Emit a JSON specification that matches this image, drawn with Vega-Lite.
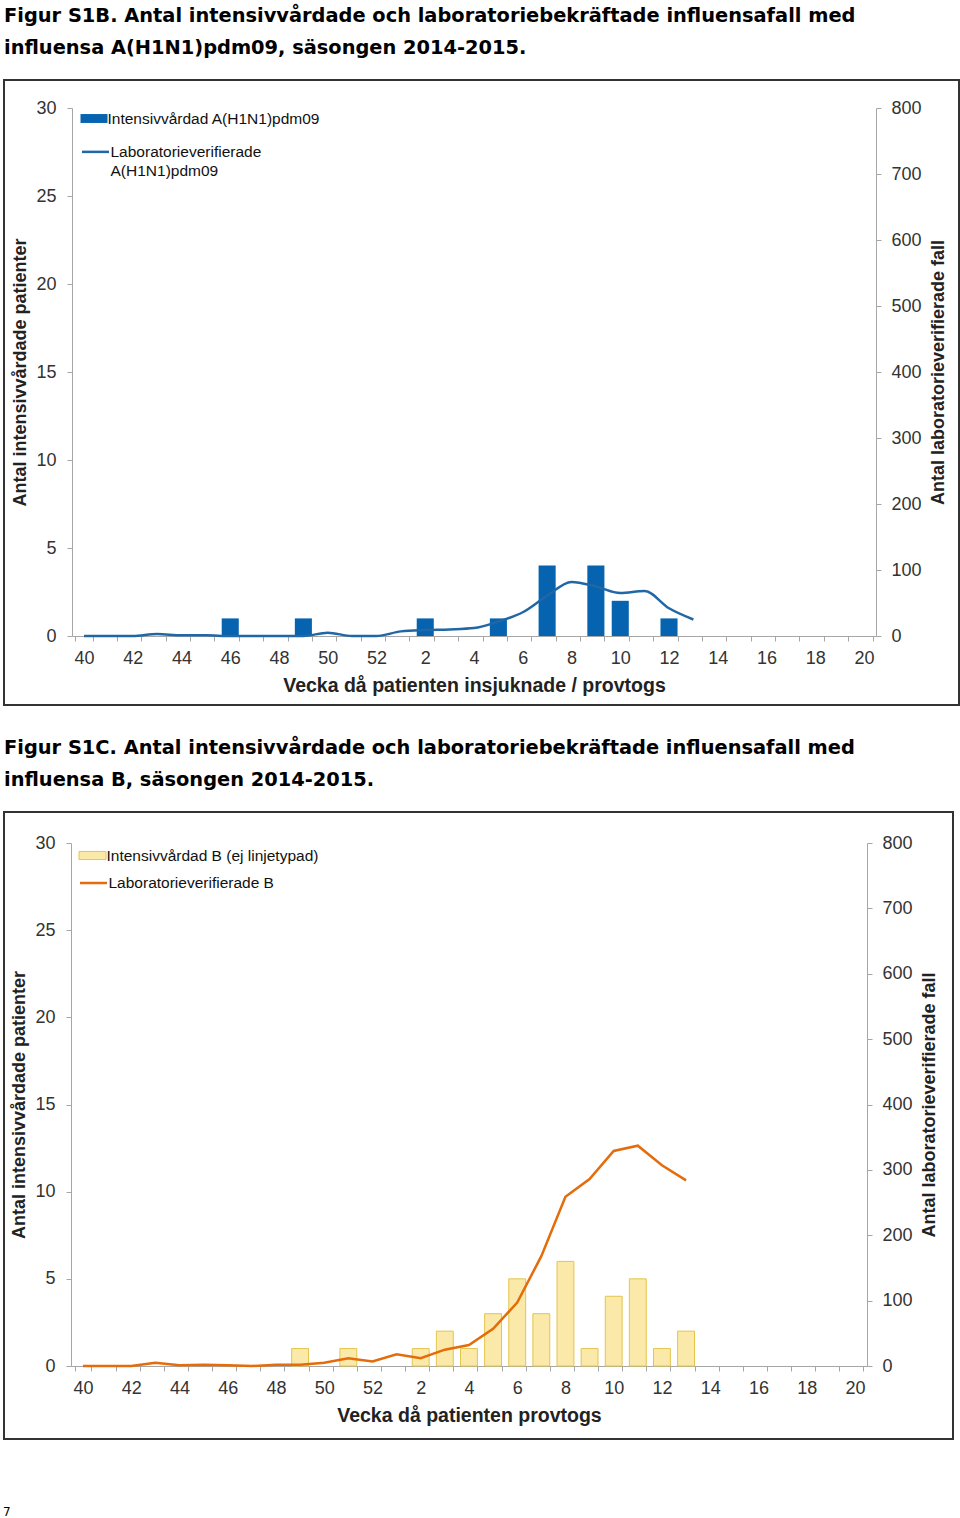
{
  "$schema": "https://vega.github.io/schema/vega-lite/v6.json",
  "background": "white",
  "padding": {"left": 3, "top": 4, "right": 0, "bottom": 0},
  "spacing": 30,
  "title": {"text": "7", "orient": "bottom", "anchor": "start", "fontSize": 12, "fontWeight": "normal", "font": "DejaVu Sans", "color": "#000", "offset": 67, "dx": 0},
  "config": {
    "font": "Liberation Sans",
    "view": {"stroke": "#333333", "strokeWidth": 2},
    "style": {"guide-label": {"lineHeight": 19}},
    "axis": {"grid": false, "domainColor": "#a6a6a6", "tickColor": "#a6a6a6", "tickSize": 5, "labelFont": "Liberation Sans", "labelFontSize": 18, "labelColor": "#333333", "titleFont": "Liberation Sans", "titleFontSize": 18, "titleFontWeight": "bold", "titleColor": "#222222", "labelPadding": 10, "domainWidth": 1, "tickWidth": 1},
    "legend": {"labelFont": "Liberation Sans", "labelFontSize": 15.5, "labelColor": "#111111", "padding": 0, "labelLimit": 400, "title": null},
    "title": {"font": "DejaVu Sans", "fontSize": 19.4, "fontWeight": "bold", "color": "#000000", "anchor": "start", "lineHeight": 32}
  },
  "datasets": {
    "a": [
      {"vecka": 40, "iva": null, "lab": 0},
      {"vecka": 41, "iva": null, "lab": 0},
      {"vecka": 42, "iva": null, "lab": 0},
      {"vecka": 43, "iva": null, "lab": 3},
      {"vecka": 44, "iva": null, "lab": 1},
      {"vecka": 45, "iva": null, "lab": 1},
      {"vecka": 46, "iva": 1, "lab": 0},
      {"vecka": 47, "iva": null, "lab": 0},
      {"vecka": 48, "iva": null, "lab": 0},
      {"vecka": 49, "iva": 1, "lab": 0},
      {"vecka": 50, "iva": null, "lab": 5},
      {"vecka": 51, "iva": null, "lab": 0},
      {"vecka": 52, "iva": null, "lab": 0},
      {"vecka": 1, "iva": null, "lab": 7},
      {"vecka": 2, "iva": 1, "lab": 9},
      {"vecka": 3, "iva": null, "lab": 10},
      {"vecka": 4, "iva": null, "lab": 12},
      {"vecka": 5, "iva": 1, "lab": 22},
      {"vecka": 6, "iva": null, "lab": 36},
      {"vecka": 7, "iva": 4, "lab": 61},
      {"vecka": 8, "iva": null, "lab": 82},
      {"vecka": 9, "iva": 4, "lab": 75},
      {"vecka": 10, "iva": 2, "lab": 65},
      {"vecka": 11, "iva": null, "lab": 68},
      {"vecka": 12, "iva": 1, "lab": 42},
      {"vecka": 13, "iva": null, "lab": 25},
      {"vecka": 14, "iva": null, "lab": null},
      {"vecka": 15, "iva": null, "lab": null},
      {"vecka": 16, "iva": null, "lab": null},
      {"vecka": 17, "iva": null, "lab": null},
      {"vecka": 18, "iva": null, "lab": null},
      {"vecka": 19, "iva": null, "lab": null},
      {"vecka": 20, "iva": null, "lab": null}
    ],
    "b": [
      {"vecka": 40, "iva": null, "lab": 0},
      {"vecka": 41, "iva": null, "lab": 0},
      {"vecka": 42, "iva": null, "lab": 0},
      {"vecka": 43, "iva": null, "lab": 5},
      {"vecka": 44, "iva": null, "lab": 1},
      {"vecka": 45, "iva": null, "lab": 2},
      {"vecka": 46, "iva": null, "lab": 1},
      {"vecka": 47, "iva": null, "lab": 0},
      {"vecka": 48, "iva": null, "lab": 2},
      {"vecka": 49, "iva": 1, "lab": 2},
      {"vecka": 50, "iva": null, "lab": 5},
      {"vecka": 51, "iva": 1, "lab": 12},
      {"vecka": 52, "iva": null, "lab": 7},
      {"vecka": 1, "iva": null, "lab": 18},
      {"vecka": 2, "iva": 1, "lab": 12},
      {"vecka": 3, "iva": 2, "lab": 25},
      {"vecka": 4, "iva": 1, "lab": 32},
      {"vecka": 5, "iva": 3, "lab": 57},
      {"vecka": 6, "iva": 5, "lab": 97},
      {"vecka": 7, "iva": 3, "lab": 168},
      {"vecka": 8, "iva": 6, "lab": 259},
      {"vecka": 9, "iva": 1, "lab": 286},
      {"vecka": 10, "iva": 4, "lab": 329},
      {"vecka": 11, "iva": 5, "lab": 337},
      {"vecka": 12, "iva": 1, "lab": 307},
      {"vecka": 13, "iva": 2, "lab": 284},
      {"vecka": 14, "iva": null, "lab": null},
      {"vecka": 15, "iva": null, "lab": null},
      {"vecka": 16, "iva": null, "lab": null},
      {"vecka": 17, "iva": null, "lab": null},
      {"vecka": 18, "iva": null, "lab": null},
      {"vecka": 19, "iva": null, "lab": null},
      {"vecka": 20, "iva": null, "lab": null}
    ]
  },
  "resolve": {"scale": {"x": "independent", "fill": "independent", "stroke": "independent"}, "legend": {"fill": "independent", "stroke": "independent"}},
  "vconcat": [
    {
      "width": 955,
      "height": 625,
      "title": {"text": ["Figur S1B. Antal intensivvårdade och laboratoriebekräftade influensafall med", "influensa A(H1N1)pdm09, säsongen 2014-2015."], "offset": 22},
      "data": {"name": "a"},
      "resolve": {"scale": {"y": "independent"}},
      "layer": [
        {
          "mark": {"type": "bar"},
          "encoding": {
            "x": {"field": "vecka", "type": "ordinal",
              "scale": {"domain": [40,41,42,43,44,45,46,47,48,49,50,51,52,1,2,3,4,5,6,7,8,9,10,11,12,13,14,15,16,17,18,19,20], "range": [67.8, 872.2], "paddingInner": 0.3, "paddingOuter": 0.15},
              "axis": {"title": "Vecka då patienten insjuknade / provtogs", "titleFontSize": 19.5, "offset": -69, "labelAngle": 0, "tickBand": "extent", "labelExpr": "datum.value % 2 == 0 ? datum.label : ''", "labelPadding": 8, "titlePadding": 9}},
            "y": {"field": "iva", "type": "quantitative",
              "scale": {"domain": [0, 30], "range": [556, 28], "nice": false},
              "axis": {"title": "Antal intensivvårdade patienter", "offset": -68, "values": [0,5,10,15,20,25,30], "labelPadding": 11, "titlePadding": 6}},
            "fill": {"datum": "Intensivvårdad A(H1N1)pdm09", "type": "nominal", "scale": {"range": ["#0563AF"]},
              "legend": {"orient": "none", "legendX": 76.5, "legendY": 25, "symbolType": "M-1,-0.33L1,-0.33L1,0.33L-1,0.33Z", "symbolSize": 729, "symbolStrokeWidth": 0, "labelOffset": 0, "labelBaseline": "middle"}}
          }
        },
        {
          "mark": {"type": "line", "interpolate": "monotone", "strokeWidth": 2.5},
          "encoding": {
            "x": {"field": "vecka", "type": "ordinal"},
            "y": {"field": "lab", "type": "quantitative",
              "scale": {"domain": [0, 800], "range": [556, 28], "nice": false},
              "axis": {"orient": "right", "title": "Antal laboratorieverifierade fall", "offset": -83, "values": [0,100,200,300,400,500,600,700,800], "titleAngle": 270, "titleBaseline": "top", "titlePadding": 8}},
            "stroke": {"datum": "Laboratorieverifierade A(H1N1)pdm09", "type": "nominal", "scale": {"range": ["#2166A5"]},
              "legend": {"orient": "none", "legendX": 76.5, "legendY": 62, "symbolType": "M-1,-0.38L1,-0.38", "symbolSize": 729, "symbolStrokeWidth": 2.5, "symbolFillColor": "transparent", "labelOffset": 0, "labelBaseline": "alphabetic", "labelExpr": "['Laboratorieverifierade', 'A(H1N1)pdm09']"}}
          }
        }
      ]
    },
    {
      "width": 949,
      "height": 627,
      "title": {"text": ["Figur S1C. Antal intensivvårdade och laboratoriebekräftade influensafall med", "influensa B, säsongen 2014-2015."], "offset": 22},
      "data": {"name": "b"},
      "resolve": {"scale": {"y": "independent"}},
      "layer": [
        {
          "mark": {"type": "bar", "stroke": "#E3C54E", "strokeWidth": 1},
          "encoding": {
            "x": {"field": "vecka", "type": "ordinal",
              "scale": {"domain": [40,41,42,43,44,45,46,47,48,49,50,51,52,1,2,3,4,5,6,7,8,9,10,11,12,13,14,15,16,17,18,19,20], "range": [66.9, 863], "paddingInner": 0.3, "paddingOuter": 0.15},
              "axis": {"title": "Vecka då patienten provtogs", "titleFontSize": 19.5, "offset": -73, "labelAngle": 0, "tickBand": "extent", "labelExpr": "datum.value % 2 == 0 ? datum.label : ''", "labelPadding": 8, "titlePadding": 9}},
            "y": {"field": "iva", "type": "quantitative",
              "scale": {"domain": [0, 30], "range": [554, 31], "nice": false},
              "axis": {"title": "Antal intensivvårdade patienter", "offset": -67, "values": [0,5,10,15,20,25,30], "labelPadding": 11, "titlePadding": 6}},
            "fill": {"datum": "Intensivvårdad B (ej linjetypad)", "type": "nominal", "scale": {"range": ["#FAE9A9"]},
              "legend": {"orient": "none", "legendX": 74.5, "legendY": 29.5, "symbolType": "M-1,-0.3L1,-0.3L1,0.3L-1,0.3Z", "symbolSize": 729, "symbolStrokeColor": "#E3C54E", "symbolStrokeWidth": 1, "labelOffset": 0, "labelBaseline": "middle"}}
          }
        },
        {
          "mark": {"type": "line", "strokeWidth": 2.5},
          "encoding": {
            "x": {"field": "vecka", "type": "ordinal"},
            "y": {"field": "lab", "type": "quantitative",
              "scale": {"domain": [0, 800], "range": [554, 31], "nice": false},
              "axis": {"orient": "right", "title": "Antal laboratorieverifierade fall", "offset": -86, "values": [0,100,200,300,400,500,600,700,800], "titleAngle": 270, "titleBaseline": "top", "titlePadding": 8}},
            "stroke": {"datum": "Laboratorieverifierade B", "type": "nominal", "scale": {"range": ["#E46C0A"]},
              "legend": {"orient": "none", "legendX": 74.5, "legendY": 56, "symbolType": "stroke", "symbolSize": 729, "symbolStrokeWidth": 2.5, "labelOffset": 0, "labelBaseline": "middle"}}
          }
        }
      ]
    }
  ]
}
